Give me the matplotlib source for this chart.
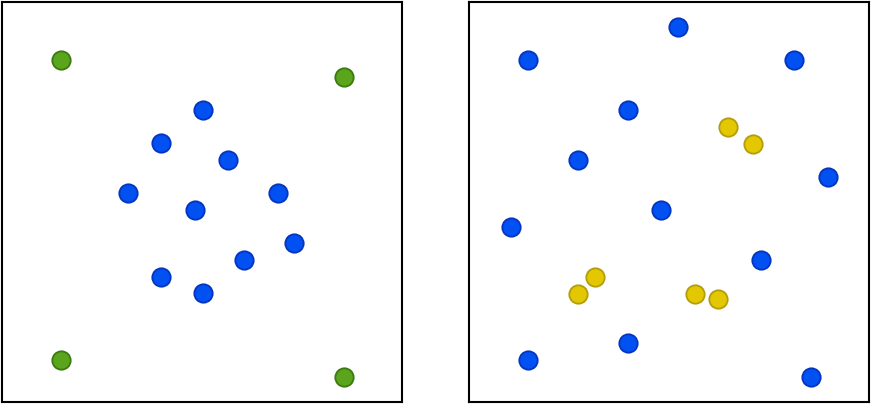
import numpy as np
import matplotlib
matplotlib.use("Agg")
import matplotlib.pyplot as plt

# left panel points (panel pixel coords, y measured from top)
left_green_x = [59, 342, 59, 342]
left_green_y = [58, 75, 358, 375]
left_blue_x = [201, 159, 226, 126, 193, 276, 292, 242, 159, 201]
left_blue_y = [108, 141, 158, 191, 208, 191, 241, 258, 275, 291]

# right panel points
right_blue_x = [209, 59, 325, 159, 109, 359, 192, 42, 292, 59, 159, 342]
right_blue_y = [25, 58, 58, 108, 158, 175, 208, 225, 258, 358, 341, 375]
right_yellow_x = [259, 284, 126, 109, 226, 249]
right_yellow_y = [125, 142, 275, 292, 292, 297]

W, H = 872, 407
fig = plt.figure(figsize=(W / 100, H / 100), dpi=100)
ax1 = fig.add_axes([2 / W, 5 / H, 400 / W, 400 / H])
ax2 = fig.add_axes([469 / W, 5 / H, 400 / W, 400 / H])

blue = dict(c="#0050f2", edgecolors="#0535c0")
green = dict(c="#5aa51c", edgecolors="#3b7a0e")
yellow = dict(c="#e3c700", edgecolors="#b39d0a")

msize = 175
ax1.scatter(left_green_x, left_green_y, s=msize, linewidths=1.3, zorder=3, **green)
ax1.scatter(left_blue_x, left_blue_y, s=msize, linewidths=1.3, zorder=3, **blue)
ax2.scatter(right_blue_x, right_blue_y, s=msize, linewidths=1.3, zorder=3, **blue)
ax2.scatter(right_yellow_x, right_yellow_y, s=msize, linewidths=1.3, zorder=3, **yellow)

for ax in (ax1, ax2):
    ax.set_xlim(0, 400)
    ax.set_ylim(400, 0)
    ax.set_xticks([])
    ax.set_yticks([])
    for sp in ax.spines.values():
        sp.set_linewidth(1.5)
        sp.set_color("black")

fig.savefig("out.png", dpi=100)
